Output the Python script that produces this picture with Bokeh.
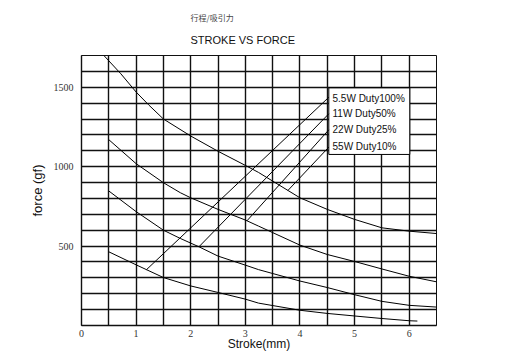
import numpy as np
from bokeh.plotting import figure
from bokeh.models import Range1d, FixedTicker, Title
from bokeh.core.properties import value
from bokeh.embed import file_html
from bokeh.resources import INLINE

# ---- data ----
x_ticks = [0, 1, 2, 3, 4, 5, 6]
y_ticks = [500, 1000, 1500]

curve1_x = [0.41, 0.72, 1.0, 1.23, 1.5, 2.0, 2.5, 3.0, 3.24, 4.0, 4.5, 5.0, 5.5, 6.0, 6.5]
curve1_y = [1700, 1585, 1470, 1389, 1300, 1193, 1097, 1008, 964, 804, 731, 668, 615, 594, 579]

curve2_x = [0.5, 1.0, 1.5, 1.81, 2.0, 2.5, 3.0, 3.24, 4.0, 4.5, 5.0, 5.5, 6.0, 6.5]
curve2_y = [1170, 1019, 899, 836, 804, 731, 664, 626, 506, 447, 403, 356, 310, 275]

curve3_x = [0.5, 1.0, 1.5, 1.81, 2.16, 2.5, 3.0, 3.24, 4.0, 4.5, 5.0, 5.5, 6.0, 6.5]
curve3_y = [847, 717, 600, 548, 494, 437, 380, 352, 280, 239, 194, 152, 127, 116]

curve4_x = [0.5, 1.0, 1.5, 2.0, 2.5, 3.0, 3.24, 4.0, 4.5, 5.0, 5.5, 6.0, 6.15]
curve4_y = [464, 382, 302, 249, 208, 166, 141, 96, 76, 60, 44, 30, 28]

legend_labels = ["5.5W Duty100%", "11W Duty50%", "22W Duty25%", "55W Duty10%"]
legend_y = [1427, 1333, 1232, 1129]
leader_start_y = [1437, 1333, 1232, 1123]
leader_end_x = [1.19, 2.15, 3.03, 3.78]

title_cn = "行程/吸引力"
title_en = "STROKE VS FORCE"
x_label = "Stroke(mm)"
y_label = "force (gf)"

curves_x = [curve1_x, curve2_x, curve3_x, curve4_x]
curves_y = [curve1_y, curve2_y, curve3_y, curve4_y]
# legend entry -> curve index (5.5W -> lowest curve ...)
leader_curve = [3, 2, 1, 0]

p = figure(width=523, height=356, output_backend="svg", toolbar_location=None,
           x_range=Range1d(0, 6.5), y_range=Range1d(0, 1700),
           min_border_left=81, min_border_right=87, min_border_top=55, min_border_bottom=31)
p.background_fill_color = "white"
p.border_fill_color = "white"
p.outline_line_color = "#111111"
p.outline_line_width = 1

# titles: the built-in title sits outermost, the added one next to the frame
p.title.text = title_cn
p.title.align = "left"
p.title.offset = 109
p.title.text_font = "Noto Sans CJK SC"
p.title.text_font_size = "8px"
p.title.text_font_style = "normal"
p.title.text_color = "#444444"
p.title.text_line_height = 0.8
p.title.standoff = 0
p.add_layout(Title(text=title_en, align="left", offset=109, text_font="Liberation Sans",
                   text_font_size="11px", text_font_style="normal", text_line_height=0.9,
                   text_color="#111111", standoff=19), "above")

p.xgrid.ticker = FixedTicker(ticks=list(np.arange(0, 6.51, 0.5)))
p.ygrid.ticker = FixedTicker(ticks=list(range(0, 1701, 100)))
for g in (p.xgrid, p.ygrid):
    g.grid_line_color = "#111111"
    g.grid_line_width = 1.4
    g.grid_line_alpha = 1.0

p.xaxis.ticker = FixedTicker(ticks=x_ticks)
p.yaxis.ticker = FixedTicker(ticks=y_ticks)
for ax in (p.xaxis, p.yaxis):
    ax.major_tick_line_color = None
    ax.minor_tick_line_color = None
    ax.major_tick_out = 0
    ax.major_tick_in = 0
    ax.minor_tick_out = 0
    ax.minor_tick_in = 0
    ax.axis_line_color = "#111111"
    ax.axis_line_width = 1.4
    ax.major_label_text_font = "Liberation Serif"
    ax.major_label_text_font_size = "10px"
    ax.major_label_text_color = "#333333"
    ax.axis_label_text_font = "Liberation Sans"
    ax.axis_label_text_font_style = "normal"
    ax.axis_label_text_color = "#111111"
p.xaxis.major_label_standoff = 4
p.yaxis.major_label_standoff = 8
p.xaxis.axis_label = x_label
p.yaxis.axis_label = y_label
p.xaxis.axis_label_text_font_size = "12px"
p.yaxis.axis_label_text_font_size = "13px"
p.xaxis.axis_label_standoff = -3
p.yaxis.axis_label_standoff = 6

for cx, cy in zip(curves_x, curves_y):
    p.line(cx, cy, line_color="black", line_width=1)

# legend box
box_l, box_r, box_t, box_b = 4.528, 6.011, 1496, 1077
p.quad(left=[box_l], right=[box_r], top=[box_t], bottom=[box_b],
       fill_color="white", line_color="black", line_width=1)

for i, lab in enumerate(legend_labels):
    ci = leader_curve[i]
    ex = leader_end_x[i]
    ey = float(np.interp(ex, curves_x[ci], curves_y[ci]))
    p.line([box_l, ex], [leader_start_y[i], ey], line_color="black", line_width=1)

p.text(x=[4.596] * 4, y=legend_y, text=legend_labels,
       text_font=value("Liberation Sans"), text_font_size="10px",
       text_baseline="middle", text_align="left", text_color="#111111")

open("out.html", "w").write(file_html(p, INLINE))
